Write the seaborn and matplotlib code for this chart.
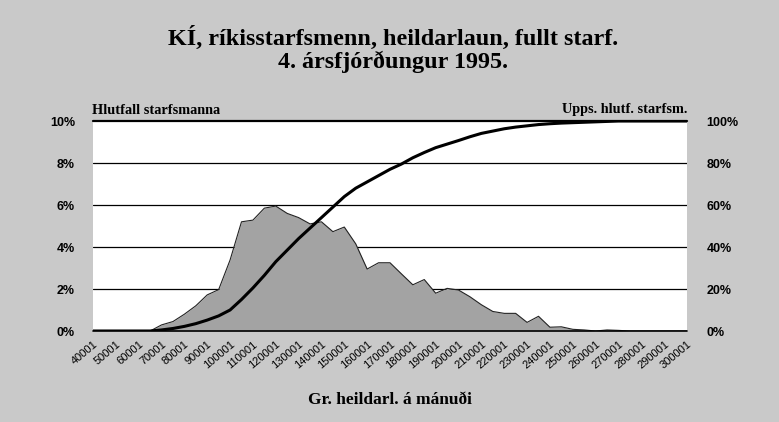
import numpy as np
import pandas as pd
import matplotlib
matplotlib.use("Agg")
import matplotlib.pyplot as plt
import seaborn as sns

# Salary bracket lower bounds (ISK / month), 5000 steps
brackets = [40001 + 5000 * k for k in range(53)]
tick_labels = [str(40001 + 10000 * k) for k in range(27)]

# Share of employees per bracket (%)
share = [0, 0, 0, 0, 0, 0, 0.29, 0.45, 0.8, 1.2,
         1.72, 1.97, 3.38, 5.2, 5.28, 5.85, 5.95, 5.6, 5.4, 5.1,
         5.2, 4.73, 4.95, 4.15, 2.95, 3.25, 3.25, 2.72, 2.2, 2.45,
         1.8, 2.03, 1.95, 1.63, 1.25, 0.93, 0.84, 0.84, 0.41, 0.7,
         0.18, 0.2, 0.08, 0.05, 0.0, 0.05, 0.03, 0, 0, 0,
         0, 0, 0]

# Cumulative share of employees (%)
cum_share = [0, 0, 0, 0, 0, 0, 0.5, 1.2, 2.2, 3.5,
             5.2, 7.2, 10, 15, 20.5, 26.5, 33, 38.5, 44, 49,
             54, 59, 64, 68, 71, 74, 77, 79.5, 82.5, 85,
             87.3, 89, 90.7, 92.5, 94.1, 95.2, 96.3, 97.1, 97.7, 98.3,
             98.7, 99.0, 99.2, 99.4, 99.6, 99.8, 100, 100, 100, 100,
             100, 100, 100]

df = pd.DataFrame({"pos": np.arange(len(brackets)), "bracket": brackets,
                   "share": share, "cum": cum_share})

sns.set_theme(style="white")
plt.rcParams["font.family"] = ["Liberation Sans", "DejaVu Sans"]
plt.rcParams["text.color"] = "black"
plt.rcParams["xtick.color"] = "black"
plt.rcParams["ytick.color"] = "black"

bg = "#c9c9c9"
fig = plt.figure(figsize=(7.79, 4.22), dpi=100, facecolor=bg)
ax = fig.add_axes([93 / 779, 1 - 331 / 422, (687 - 93) / 779, (331 - 121) / 422])
ax.set_facecolor("white")

# area
ax.fill_between(df["pos"], df["share"], 0, color="#a3a3a3", zorder=2, linewidth=0)
sns.lineplot(data=df, x="pos", y="share", ax=ax, color="#222222", linewidth=0.8, zorder=3)

ax.set_xlim(0, len(brackets) - 1)
ax.set_ylim(0, 10)
ax.set_yticks([0, 2, 4, 6, 8, 10])
ax.set_yticklabels([f"{v}%" for v in [0, 2, 4, 6, 8, 10]], fontsize=9, fontweight="bold")
for v in [2, 4, 6, 8]:
    ax.axhline(v, color="black", linewidth=0.9, zorder=1)
ax.axhline(10, color="black", linewidth=1.6, zorder=4, clip_on=False)
ax.axhline(0, color="black", linewidth=1.2, zorder=4, clip_on=False)
ax.set_xticks(np.arange(0, len(brackets), 2))
ax.set_xticklabels(tick_labels, rotation=40, ha="right", rotation_mode="anchor", fontsize=8)
ax.tick_params(axis="x", length=0, pad=6)
ax.tick_params(axis="y", length=0, pad=13)
for s in ax.spines.values():
    s.set_visible(False)
ax.set_xlabel("")
ax.set_ylabel("")

ax2 = ax.twinx()
sns.lineplot(data=df, x="pos", y="cum", ax=ax2, color="black", linewidth=2.2, zorder=5)
ax2.set_ylim(0, 100)
ax2.set_yticks([0, 20, 40, 60, 80, 100])
ax2.set_yticklabels([f"{v}%" for v in [0, 20, 40, 60, 80, 100]], fontsize=9, fontweight="bold")
ax2.tick_params(axis="y", length=0, pad=14)
for s in ax2.spines.values():
    s.set_visible(False)
ax2.set_ylabel("")
ax2.set_xlim(0, len(brackets) - 1)

serif = ["Liberation Serif", "DejaVu Serif"]
fig.text(393 / 779, 1 - 38 / 422, "KÍ, ríkisstarfsmenn, heildarlaun, fullt starf.",
         ha="center", va="center", fontsize=17.4, fontweight="bold", family=serif)
fig.text(393 / 779, 1 - 62 / 422, "4. ársfjórðungur 1995.",
         ha="center", va="center", fontsize=17.4, fontweight="bold", family=serif)
fig.text(92 / 779, 1 - 110 / 422, "Hlutfall starfsmanna", ha="left", va="center",
         fontsize=10.3, fontweight="bold", family=serif)
fig.text(687 / 779, 1 - 110 / 422, "Upps. hlutf. starfsm.", ha="right", va="center",
         fontsize=10.3, fontweight="bold", family=serif)
fig.text(390 / 779, 1 - 400 / 422, "Gr. heildarl. á mánuði", ha="center", va="center",
         fontsize=12.5, fontweight="bold", family=serif)

fig.savefig("out.png", dpi=100, facecolor=bg)
